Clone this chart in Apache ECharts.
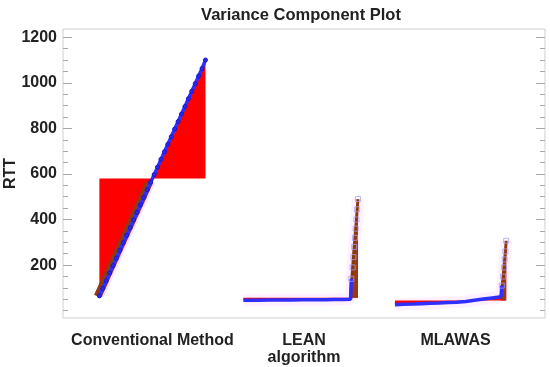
<!DOCTYPE html>
<html><head><meta charset="utf-8">
<script src="https://cdn.jsdelivr.net/npm/echarts@6/dist/echarts.min.js"></script>
<style>html,body{margin:0;padding:0;background:#fff}#c{width:550px;height:367px}</style>
</head><body><div id="c"></div>
<script>
// ---- data ----
const categories = ['Conventional Method', 'LEAN\nalgorithm', 'MLAWAS'];
const convValues = [65, 98, 131, 165, 198, 231, 265, 298, 331, 364, 398, 431, 464, 497, 531, 564, 597, 630, 664, 697, 730, 763, 797, 830, 863, 896, 930, 963, 996, 1030, 1063, 1100];
const convTail = [];
const leanValues = [46, 46, 46, 47, 47, 47, 47, 48, 48, 48, 48, 49, 49, 50];
const leanTail = [140, 190, 235, 280, 320, 360, 400, 445, 490];
const mlawasValues = [26, 28, 29, 31, 33, 34, 36, 37, 40, 46, 51, 56, 61];
const mlawasTail = [110, 150, 190, 225, 260, 307];
const groupMeans = [580, 57, 45];
const yMajorTicks = [200, 400, 600, 800, 1000, 1200];
const yMinorTicks = [0, 50, 100, 150, 200, 250, 300, 350, 400, 450, 500, 550, 600, 650, 700, 750, 800, 850, 900, 950, 1000, 1050, 1100, 1150, 1200];

// ---- layout ----
const groups = [
  { body: convValues, tail: convTail, span: [-0.35, 0.35] },
  { body: leanValues, tail: leanTail, span: [-0.40, 0.307] },
  { body: mlawasValues, tail: mlawasTail, span: [-0.40, 0.30] }
];
const tailStep = 0.005;
const FONT = 'Liberation Sans, Arial, sans-serif';
const series = [];
groups.forEach((g, gi) => {
  const c = gi + 1;
  const n = g.body.length;
  const bodyPts = g.body.map((v, i) => [c + g.span[0] + (g.span[1] - g.span[0]) * i / (n - 1), v]);
  const x0 = bodyPts[n - 1][0];
  const tailPts = g.tail.map((v, k) => [x0 + (k + 1) * tailStep + (k > 0 ? 0.004 : 0), v]);
  const all = bodyPts.concat(tailPts);
  const mean = groupMeans[gi];
  const below = bodyPts.filter(p => p[1] <= mean);
  // pink halo
  series.push({ type: 'line', data: gi === 0 ? below : all, showSymbol: false, silent: true, z: 1,
    lineStyle: { width: gi === 0 ? 9 : 12, color: gi === 0 ? 'rgba(255,110,255,0.25)' : 'rgba(255,110,255,0.10)' }, animation: false });
  // red deviation area
  series.push({ type: 'line', data: all, showSymbol: false, silent: true, z: 2,
    lineStyle: { width: 0 }, areaStyle: { color: '#ff0000', opacity: 1, origin: mean }, animation: false });
  if (gi === 0) {
    // darker band beside the observations below the mean
    series.push({ type: 'line', data: below, showSymbol: false, silent: true, z: 3,
      lineStyle: { width: 5, color: '#8e3a12', shadowColor: '#8e3a12', shadowOffsetX: -3, shadowBlur: 0 }, animation: false });
  }
  if (tailPts.length) {
    const tailLine = [bodyPts[n - 1]].concat(tailPts.slice(1));
    series.push({ type: 'line', data: tailLine, showSymbol: false, silent: true, z: 3,
      lineStyle: { width: 3, color: '#8a3a0a' }, areaStyle: { color: '#9a3a10', opacity: 1, origin: mean }, animation: false });
  }
  // blue observation line
  const blue = tailPts.length ? bodyPts.concat([tailPts[0]]) : bodyPts;
  series.push({ type: 'line', data: blue, z: 5, symbol: 'circle', symbolSize: 4, showSymbol: gi === 0,
    lineStyle: { width: 3.5, color: '#2f2fff' }, itemStyle: { color: '#2b2bf0', borderColor: '#1818c8', borderWidth: 1 }, animation: false });
  if (tailPts.length) {
    series.push({ type: 'scatter', data: tailPts, z: 6, symbol: 'rect', symbolSize: 5,
      itemStyle: { color: 'rgba(255,255,255,0)', borderColor: '#a89cf5', borderWidth: 1 }, animation: false });
  }
});

const baseY = { type: 'value', min: -32, max: 1236, splitLine: { show: false }, axisLine: { show: false } };
const option = {
  backgroundColor: '#fff',
  title: { text: 'Variance Component Plot', left: 296, textAlign: 'center', top: 2,
    textStyle: { fontFamily: FONT, fontWeight: 'bold', fontSize: 16.5, color: '#222' } },
  grid: { left: 63, right: 5, top: 29, bottom: 49, show: true, borderColor: '#cfcfcf', borderWidth: 1,
    outerBoundsMode: 'none', containLabel: false },
  xAxis: { type: 'value', min: 0.41, max: 3.59, splitLine: { show: false }, axisLine: { show: false },
    axisTick: { show: false },
    axisLabel: { customValues: [1, 2, 3], formatter: v => categories[Math.round(v) - 1], margin: 14,
      fontFamily: FONT, fontWeight: 'bold', fontSize: 16, color: '#222', lineHeight: 17 } },
  yAxis: [
    Object.assign({}, baseY, { position: 'left', name: 'RTT', nameLocation: 'middle', nameGap: 44, nameRotate: 90,
      nameMoveOverlap: false,
      nameTextStyle: { fontFamily: FONT, fontWeight: 'bold', fontSize: 16, color: '#222' },
      axisTick: { inside: true, length: 9, customValues: yMajorTicks, lineStyle: { color: '#aaa' } },
      axisLabel: { customValues: yMajorTicks, formatter: v => String(v), margin: 6, fontFamily: FONT, fontWeight: 'bold', fontSize: 16, color: '#222' } }),
    Object.assign({}, baseY, { position: 'left',
      axisTick: { inside: true, length: 5, customValues: yMinorTicks, lineStyle: { color: '#aaa' } }, axisLabel: { show: false } }),
    Object.assign({}, baseY, { position: 'right',
      axisTick: { inside: true, length: 9, customValues: yMajorTicks, lineStyle: { color: '#aaa' } }, axisLabel: { show: false } }),
    Object.assign({}, baseY, { position: 'right',
      axisTick: { inside: true, length: 5, customValues: yMinorTicks, lineStyle: { color: '#aaa' } }, axisLabel: { show: false } })
  ],
  series: series
};
echarts.init(document.getElementById('c')).setOption(option);
</script></body></html>
